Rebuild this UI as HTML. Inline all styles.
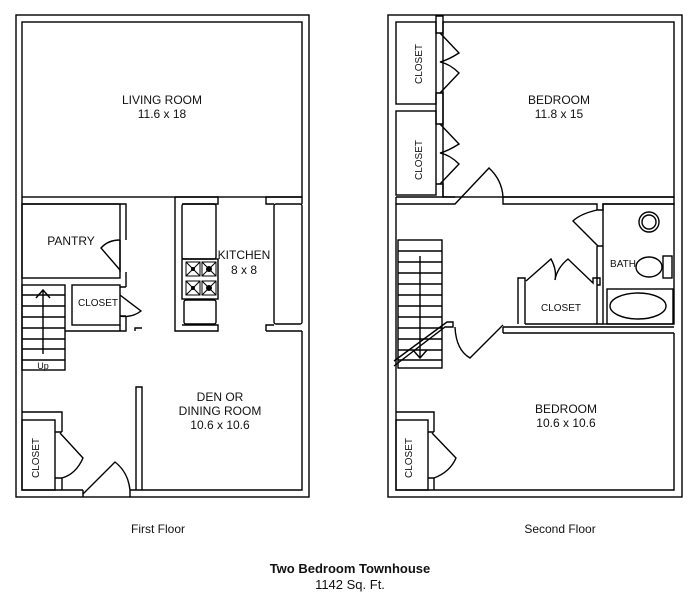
<!DOCTYPE html>
<html><head><meta charset="utf-8"><style>
html,body{margin:0;padding:0;background:#fff}
svg{display:block}
text{font-family:"Liberation Sans",Arial,sans-serif;fill:#111}
</style></head><body>
<svg width="700" height="607" viewBox="0 0 700 607" xmlns="http://www.w3.org/2000/svg">
<g fill="none" stroke="#000" stroke-width="1.4">
<!-- FIRST FLOOR -->
<rect x="16" y="15" width="293" height="482"/>
<rect x="22" y="22" width="280" height="175"/>
<path d="M22 197 V490 H83 M130 490 H302 V331"/>
<path d="M22 204 H126 V240"/>
<path d="M126 272 V287"/>
<path d="M126 316 V331 H65"/>
<rect x="22" y="204" width="98" height="74"/>
<path d="M120 240 V272"/>
<path d="M120 270 L101 248 Q108 240 120 240"/>
<!-- stairs -->
<rect x="22" y="285" width="43" height="85"/>
<path d="M22 295 H65 M22 306 H65 M22 317 H65 M22 328 H65 M22 339 H65 M22 349 H65 M22 360 H65"/>
<path d="M43 354 V290 M36 298 L43 290 L50 298"/>
<!-- closet -->
<rect x="72" y="285" width="48" height="40"/>
<path d="M120 295 L141 311 Q132 318 120 316"/>
<path d="M120 287 H126 M120 316 H126 M120 325 V331"/>
<path d="M135 331 V328 H142"/>
<!-- kitchen counter left -->
<path d="M175 197 H218 V204 H182 M175 197 V331 H218 V325 H182"/>
<rect x="182" y="204" width="34" height="55" rx="2"/>
<rect x="184" y="300" width="32" height="24" rx="2"/>
<rect x="182" y="259" width="36" height="40"/>
<!-- right counter -->
<path d="M302 197 H266 V204 H274 M266 331 H302 M266 331 V325 H274"/>
<rect x="274" y="204" width="28" height="120" rx="2"/>
<path d="M302 204 V197"/>
<!-- den wall -->
<path d="M136 490 V387 H142 V490"/>
<!-- bottom left closet -->
<path d="M22 412 H62 V432 M62 478 V490"/>
<rect x="22" y="420" width="33" height="70"/>
<path d="M55 432 H62 M55 478 H62"/>
<path d="M60 433 L83 458 Q76 474 62 478"/>
<!-- front door -->
<path d="M83 490 V497 M130 490 V497" />
<path d="M83 494 L115 462 Q128 472 130 490"/>

<!-- SECOND FLOOR -->
<rect x="388" y="15" width="294" height="482"/>
<rect x="443" y="22" width="231" height="175"/>
<rect x="396" y="22" width="40" height="82"/>
<rect x="396" y="111" width="40" height="84"/>
<path d="M436 16 H443 V33 H436 Z"/>
<path d="M436 93 H443 V124 H436 Z"/>
<path d="M436 184 H443 V197"/>
<path d="M440 33 L459 53 Q448 60 440 62 Q450 64 459 73 L440 93"/>
<path d="M440 124 L459 144 Q448 151 440 153 Q450 155 459 164 L440 184"/>
<path d="M396 197 V204 H455 L489 168 Q502 180 503 197 V204 H597 V210 H603 V204 H674 V197 H503"/>
<path d="M396 197 H455"/>
<!-- bath -->
<rect x="603" y="204" width="71" height="120"/>
<path d="M597 210 Q580 214 573 221 L598 246 H603 M597 246 V324 H603"/>
<circle cx="649" cy="222" r="10"/><circle cx="649" cy="222" r="7"/>
<ellipse cx="649" cy="267" rx="13" ry="10"/>
<rect x="663" y="256" width="9" height="22"/>
<rect x="607" y="289" width="66" height="35"/>
<ellipse cx="638" cy="306" rx="28" ry="13"/>
<!-- hall closet -->
<path d="M518 324 V278 H525 V324 M526 281 L551 259 Q557 270 555 280 Q557 268 568 259 L593 283 V278 H600 V285 H597"/>
<path d="M525 324 H597"/>
<path d="M503 327 H674 M503 333 H674 M503 327 V333"/>
<!-- stairs -->
<rect x="398" y="240" width="44" height="128"/>
<path d="M398 251 H442 M398 262 H442 M398 273 H442 M398 284 H442 M398 295 H442 M398 306 H442 M398 317 H442 M398 328 H442 M398 339 H442 M398 350 H442 M398 360 H442"/>
<path d="M420 256 V358 M413 350 L420 358 L427 350"/>
<path d="M394 361 L447 322 H453 V327 H445 L394 366"/>
<path d="M455 327 Q456 350 470 358 L503 325"/>
<path d="M396 204 V490 H674 V333"/>
<!-- bottom closet -->
<path d="M396 412 H434 V432 M434 478 V490"/>
<rect x="396" y="420" width="32" height="70"/>
<path d="M428 432 H434 M428 478 H434"/>
<path d="M432 433 L456 458 Q450 472 434 478"/>
</g>
<!-- stove burners -->
<g fill="#000">
<circle cx="193" cy="269" r="2"/><circle cx="209" cy="269" r="3"/>
<circle cx="193" cy="288" r="2"/><circle cx="209" cy="288" r="3"/>
</g>
<g stroke="#000" stroke-width="1" fill="none">
<rect x="186" y="262" width="14" height="14"/><rect x="202" y="262" width="14" height="14"/>
<rect x="186" y="281" width="14" height="14"/><rect x="202" y="281" width="14" height="14"/>
<path d="M186 262 L200 276 M200 262 L186 276 M202 262 L216 276 M216 262 L202 276 M186 281 L200 295 M200 281 L186 295 M202 281 L216 295 M216 281 L202 295"/>
</g>
<g font-size="12" text-anchor="middle">
<text x="162" y="104">LIVING ROOM</text><text x="162" y="118">11.6 x 18</text>
<text x="71" y="245">PANTRY</text>
<text x="244" y="259">KITCHEN</text><text x="244" y="274">8 x 8</text>
<text x="220" y="401">DEN OR</text><text x="220" y="415">DINING ROOM</text><text x="220" y="429">10.6 x 10.6</text>
<text x="559" y="104">BEDROOM</text><text x="559" y="118">11.8 x 15</text>
<text x="566" y="413">BEDROOM</text><text x="566" y="427">10.6 x 10.6</text>
<text x="158" y="533">First Floor</text>
<text x="560" y="533">Second Floor</text>
<text x="350" y="573" font-weight="bold" font-size="13">Two Bedroom Townhouse</text>
<text x="350" y="589" font-size="13">1142 Sq. Ft.</text>
</g>
<g font-size="10" text-anchor="middle">
<text x="98" y="306">CLOSET</text>
<text x="43" y="369" font-size="9">Up</text>
<text x="623" y="267">BATH</text>
<text x="561" y="311">CLOSET</text>
<text transform="translate(39,458) rotate(-90)">CLOSET</text>
<text transform="translate(422,64) rotate(-90)">CLOSET</text>
<text transform="translate(422,160) rotate(-90)">CLOSET</text>
<text transform="translate(412,458) rotate(-90)">CLOSET</text>
</g>
</svg>
</body></html>
